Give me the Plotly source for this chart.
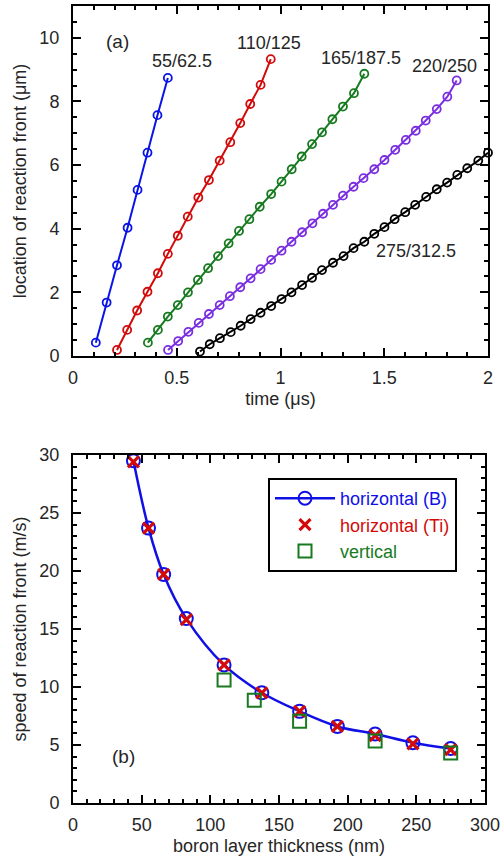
import plotly.graph_objects as go

# ---------- panel (a) data ----------
t_55 = [0.110, 0.162, 0.212, 0.263, 0.311, 0.359, 0.407, 0.457]
y_55 = [0.42, 1.68, 2.85, 4.03, 5.22, 6.39, 7.57, 8.74]

t_110 = [0.212, 0.261, 0.309, 0.359, 0.409, 0.457, 0.505, 0.553, 0.604, 0.655,
         0.707, 0.758, 0.806, 0.854, 0.904, 0.953]
y_110 = [0.19, 0.82, 1.43, 2.02, 2.60, 3.21, 3.78, 4.38, 4.98, 5.53,
         6.14, 6.72, 7.32, 7.92, 8.52, 9.33]

t_165 = [0.361, 0.409, 0.457, 0.505, 0.554, 0.602, 0.651, 0.699, 0.750, 0.800,
         0.850, 0.900, 0.955, 1.005, 1.054, 1.102, 1.152, 1.200, 1.250, 1.301,
         1.354, 1.404]
y_165 = [0.42, 0.82, 1.24, 1.60, 2.00, 2.39, 2.76, 3.14, 3.54, 3.93,
         4.30, 4.69, 5.09, 5.48, 5.87, 6.27, 6.66, 7.03, 7.44, 7.84,
         8.26, 8.87]

t_220 = [0.458, 0.507, 0.556, 0.606, 0.655, 0.707, 0.756, 0.806, 0.856, 0.904,
         0.955, 1.005, 1.053, 1.104, 1.154, 1.205, 1.253, 1.301, 1.352, 1.400,
         1.452, 1.501, 1.553, 1.604, 1.652, 1.700, 1.753, 1.804, 1.849]
y_220 = [0.19, 0.47, 0.76, 1.04, 1.32, 1.60, 1.88, 2.16, 2.44, 2.73,
         3.02, 3.31, 3.59, 3.89, 4.17, 4.47, 4.75, 5.04, 5.32, 5.59,
         5.87, 6.16, 6.48, 6.79, 7.08, 7.40, 7.76, 8.15, 8.66]

t_275 = [0.612, 0.659, 0.708, 0.760, 0.808, 0.856, 0.904, 0.955, 1.005, 1.053,
         1.104, 1.152, 1.200, 1.253, 1.304, 1.352, 1.404, 1.452, 1.501, 1.550,
         1.601, 1.649, 1.702, 1.753, 1.803, 1.852, 1.900, 1.953, 2.000]
y_275 = [0.14, 0.37, 0.56, 0.75, 0.95, 1.16, 1.36, 1.57, 1.79, 2.00,
         2.23, 2.46, 2.70, 2.93, 3.14, 3.39, 3.59, 3.84, 4.05, 4.30,
         4.52, 4.75, 5.00, 5.24, 5.45, 5.69, 5.90, 6.14, 6.39]

series_labels = ["55/62.5", "110/125", "165/187.5", "220/250", "275/312.5"]
label_t = [0.524, 0.945, 1.389, 1.789, 1.651]
label_y = [9.28, 9.85, 9.36, 9.12, 3.31]

# ---------- panel (b) data ----------
thick_h = [44, 55, 66, 82.5, 110, 137.5, 165, 192.5, 220, 247.5, 275]
speed_B = [29.5, 23.7, 19.7, 15.9, 11.9, 9.5, 7.9, 6.6, 5.95, 5.2, 4.7]
speed_Ti = [29.4, 23.7, 19.7, 15.8, 11.9, 9.5, 7.9, 6.6, 5.8, 5.1, 4.6]
thick_v = [110, 132, 165, 220, 275]
speed_v = [10.6, 8.85, 7.05, 5.35, 4.3]

FONT = "Liberation Sans, Arial, sans-serif"
TXT = "#262626"
FS = 18
colors = ["#0a14e6", "#d20a0a", "#177a1f", "#7a2ee0", "#000000"]

fig = go.Figure()

top_t = [t_55, t_110, t_165, t_220, t_275]
top_y = [y_55, y_110, y_165, y_220, y_275]
for tt, yy, c in zip(top_t, top_y, colors):
    fig.add_trace(go.Scatter(
        x=tt, y=yy, mode="lines+markers", xaxis="x", yaxis="y", cliponaxis=False,
        line=dict(color=c, width=2),
        marker=dict(symbol="circle-open", size=8, color=c, line=dict(width=1.8, color=c)),
        showlegend=False))

for lab, tx, ty in zip(series_labels, label_t, label_y):
    fig.add_annotation(x=tx, y=ty, xref="x", yref="y", text=lab, showarrow=False,
                       font=dict(family=FONT, size=FS, color=TXT))
fig.add_annotation(x=0.215, y=9.87, xref="x", yref="y", text="(a)", showarrow=False,
                   font=dict(family=FONT, size=19, color=TXT))

# bottom panel
fig.add_trace(go.Scatter(
    x=thick_h, y=speed_B, mode="lines+markers", xaxis="x2", yaxis="y2", cliponaxis=False,
    line=dict(color="#1010e6", width=2.5, shape="spline"),
    marker=dict(symbol="circle-open", size=13, color="#1010e6", line=dict(width=2, color="#1010e6")),
    name="<span style='color:#1010e6'>horizontal (B)</span>"))
fig.add_trace(go.Scatter(
    x=thick_h, y=speed_Ti, mode="markers", xaxis="x2", yaxis="y2", cliponaxis=False,
    marker=dict(symbol="x-thin-open", size=11, color="#d20a0a", line=dict(width=3.2, color="#d20a0a")),
    name="<span style='color:#d20a0a'>horizontal (Ti)</span>"))
fig.add_trace(go.Scatter(
    x=thick_v, y=speed_v, mode="markers", xaxis="x2", yaxis="y2", cliponaxis=False,
    marker=dict(symbol="square-open", size=13, color="#177a1f", line=dict(width=2, color="#177a1f")),
    name="<span style='color:#177a1f'>vertical</span>"))

fig.add_annotation(x=36.6, y=4.0, xref="x2", yref="y2", text="(b)", showarrow=False,
                   font=dict(family=FONT, size=19, color=TXT))

W, H = 500, 861
def axis_common():
    return dict(showline=True, linewidth=2, linecolor="black", mirror="allticks",
                ticks="inside", ticklen=8, tickwidth=1.5, tickcolor="black",
                showgrid=False, zeroline=False, automargin=False,
                ticklabeloverflow="allow",
                tickfont=dict(family=FONT, size=FS, color=TXT))

def minor(d):
    return dict(dtick=d, ticks="inside", ticklen=4, tickwidth=1.5, tickcolor="black")

def ttl(s, so):
    return dict(text=s, font=dict(family=FONT, size=FS, color=TXT), standoff=so)

xa = axis_common()
xa.update(domain=[73 / W, 488 / W], range=[0, 2], dtick=0.5, tick0=0, anchor="y",
          minor=minor(0.1), title=ttl("time (μs)", 6), ticklabelstandoff=4)
ya = axis_common()
ya.update(domain=[(H - 356) / H, (H - 6) / H], range=[0, 11], dtick=2, tick0=0, anchor="x",
          minor=minor(0.5), title=ttl("location of reaction front (μm)", 8), ticklabelstandoff=8)
xb = axis_common()
xb.update(domain=[73 / W, 485 / W], range=[0, 300], dtick=50, tick0=0, anchor="y2",
          minor=minor(10), title=ttl("boron layer thickness (nm)", 6), ticklabelstandoff=4)
yb = axis_common()
yb.update(domain=[(H - 803) / H, (H - 455) / H], range=[0, 30], dtick=5, tick0=0, anchor="x2",
          minor=minor(1), title=ttl("speed of reaction front (m/s)", 8), ticklabelstandoff=8)

fig.update_layout(
    template="none",
    width=W, height=H,
    margin=dict(l=0, r=0, t=0, b=0),
    paper_bgcolor="white", plot_bgcolor="white",
    font=dict(family=FONT, size=FS, color=TXT),
    xaxis=xa, yaxis=ya, xaxis2=xb, yaxis2=yb,
    legend=dict(x=268 / W, y=(H - 478) / H, xanchor="left", yanchor="top",
                bordercolor="black", borderwidth=2, bgcolor="white",
                font=dict(family=FONT, size=FS), itemwidth=60,
                tracegroupgap=0),
    showlegend=True,
)

fig.write_html("out.html", config={"displayModeBar": False},
               post_script="document.body.style.margin='0';document.body.style.overflow='hidden';")
